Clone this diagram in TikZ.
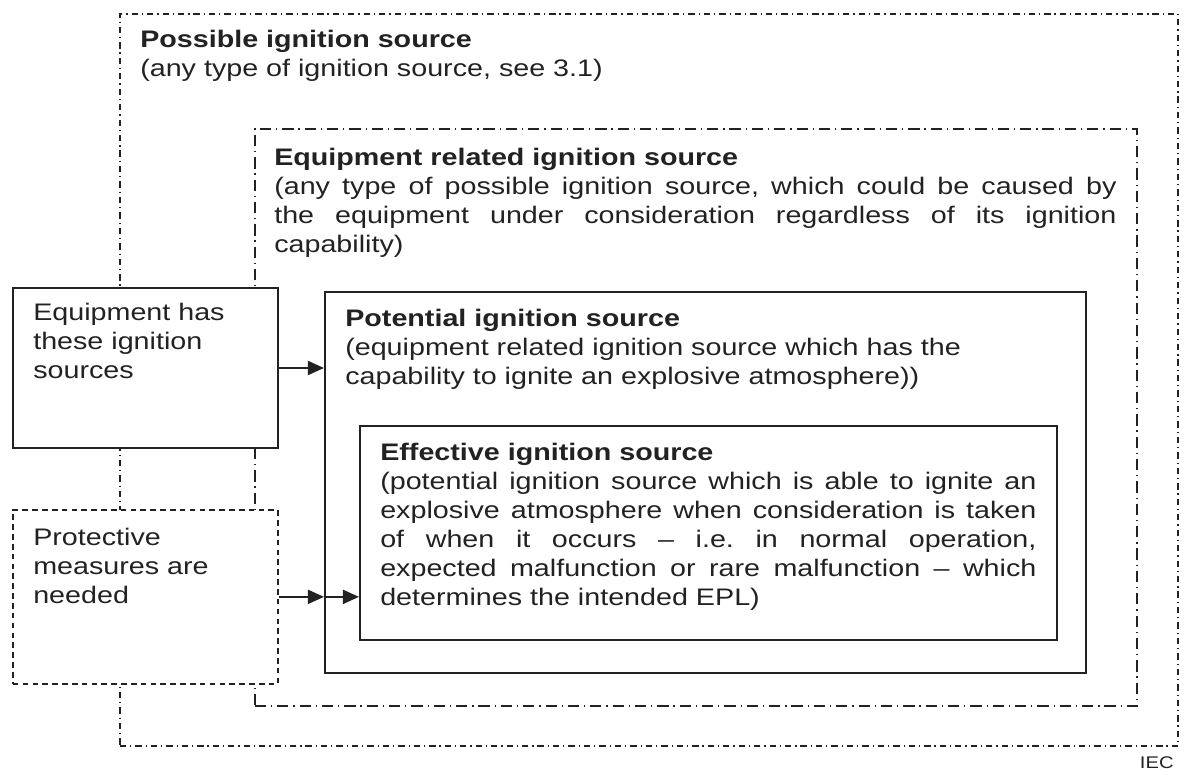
\documentclass[tikz,border=0pt]{standalone}
\usepackage{fontspec}
\setmainfont{Liberation Sans}[FakeStretch=1.2]
\usetikzlibrary{arrows.meta}
\frenchspacing

\definecolor{ink}{HTML}{222222}

\tikzset{
  outerline/.style={draw=ink, line width=1.2pt, dash pattern=on 4.5pt off 2.8pt on 0.9pt off 2.8pt},
  innerline/.style={draw=ink, line width=1.2pt, dash pattern=on 8pt off 3.5pt on 0.9pt off 3.5pt},
  dashline/.style={draw=ink, line width=1.2pt, dash pattern=on 4pt off 3pt},
  solidline/.style={draw=ink, line width=1.4pt},
  frame/.style={anchor=north west, inner sep=0pt},
  label/.style={anchor=north west, inner sep=0pt, text=ink, align=left,
    font=\fontsize{17}{20.6}\selectfont},
  fulltext/.style={label, align=justify},
  feed/.style={draw=ink, line width=1.4pt, -{Triangle[length=11.5pt,width=10pt]}}
}

\begin{document}
\begin{tikzpicture}[x=0.025cm, y=-0.025cm]
    \useasboundingbox (0,0) rectangle (1189,775);

    % boxes
    \node[frame, outerline, minimum width=26.45cm, minimum height=18.3cm](possible) at (119,13){};
    \node[frame, innerline, minimum width=22.05cm, minimum height=14.425cm](related) at (254,128){};
    \node[frame, solidline, fill=white, minimum width=6.625cm, minimum height=4.0cm](has) at (12,287){};
    \node[frame, dashline, fill=white, minimum width=6.625cm, minimum height=4.35cm](needed) at (12,509){};
    \node[frame, solidline, fill=white, minimum width=19.025cm, minimum height=9.525cm](potential) at (324,291){};
    \node[frame, solidline, minimum width=17.425cm, minimum height=5.35cm](effective) at (359,425){};

    % texts
    \node[label](possibletext) at (140,30){\textbf{Possible ignition source}\\(any type of ignition source, see 3.1)};
    \node[fulltext, text width=21.05cm](relatedtext) at (274,148){\textbf{Equipment related ignition source}\\(any type of possible ignition source, which could be caused by\linebreak the equipment under consideration regardless of its ignition\linebreak capability)};
    \node[label](hastext) at (33,303){Equipment has\\these ignition\\sources};
    \node[label](neededtext) at (33,528){Protective\\measures are\\needed};
    \node[label](potentialtext) at (345,309){\textbf{Potential ignition source}\\(equipment related ignition source which has the\\capability to ignite an explosive atmosphere))};
    \node[fulltext, text width=16.4cm](effectivetext) at (380,443){\textbf{Effective ignition source}\\(potential ignition source which is able to ignite an\linebreak explosive atmosphere when consideration is taken\linebreak of when it occurs -- i.e. in normal operation,\linebreak expected malfunction or rare malfunction -- which\linebreak determines the intended EPL)};
    \node[anchor=north east, inner sep=0pt, text=ink, font=\fontsize{12}{14}\selectfont](iec) at (1174,756){IEC};

    % arrows
    \draw[feed] (has.east) -- (has.east -| potential.west);
    \draw[feed] (needed.east) -- (needed.east -| potential.west);
    \draw[feed] (needed.east -| potential.west) -- (needed.east -| effective.west);
\end{tikzpicture}
\end{document}
